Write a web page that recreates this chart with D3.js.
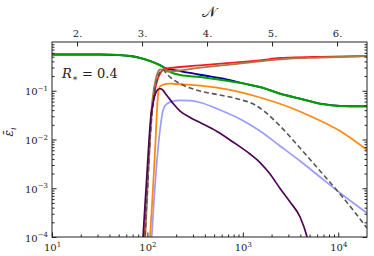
<!DOCTYPE html>
<html>
<head>
<meta charset="utf-8">
<script src="https://cdn.jsdelivr.net/npm/d3@7"></script>
<style>
  body { margin: 0; background: #fff; }
</style>
</head>
<body>
<div id="chart"></div>
<script>
// x: time t (log), y: eps_i (log).
const greenT  = [10, 32, 49, 65.8, 83.6, 106.5, 135.5, 153, 172.5, 220, 356, 734.5, 1514, 2455, 3979, 6446, 10440, 20000];
const greenE  = [0.554, 0.554, 0.541, 0.516, 0.470, 0.408, 0.330, 0.286, 0.243, 0.210, 0.191, 0.156, 0.119, 0.087, 0.0687, 0.0542, 0.0487, 0.048];

const blueT   = [10, 32, 49, 65.8, 83.6, 106.5, 135.5, 153, 172.5, 220, 356, 734.5, 1189, 1514, 2455, 3979, 6446, 10440, 20000];
const blueE   = [0.554, 0.554, 0.541, 0.516, 0.470, 0.408, 0.337, 0.293, 0.275, 0.254, 0.213, 0.166, 0.131, 0.119, 0.087, 0.0687, 0.0542, 0.0487, 0.048];

const redT    = [92.1, 96.6, 101.5, 106.5, 111.7, 120, 129.2, 139, 153, 172.5, 220, 356, 734.5, 1514, 2455, 3126, 6446, 20000];
const redE    = [5e-5, 0.000358, 0.00237, 0.0124, 0.0403, 0.104, 0.183, 0.243, 0.283, 0.293, 0.307, 0.333, 0.374, 0.421, 0.470, 0.480, 0.497, 0.516];

const brownT  = [93.3, 97.9, 101.5, 106.5, 110.4, 114.5, 121.7, 129.2, 135.5, 149.3, 164.4, 220, 356, 734.5, 1514, 3126, 6446, 20000];
const brownE  = [5e-5, 0.000358, 0.00187, 0.00977, 0.0403, 0.0818, 0.166, 0.243, 0.273, 0.267, 0.248, 0.260, 0.297, 0.342, 0.402, 0.454, 0.477, 0.516];

const grayT   = [93.3, 96.6, 100.2, 106.5, 111.7, 117.3, 126, 135.5, 145.8, 156.7, 172.5, 220, 356, 577, 935, 1343, 1710, 2455, 3979, 6446, 10440, 20000];
const grayE   = [5e-5, 0.000283, 0.000921, 0.00977, 0.0318, 0.0818, 0.166, 0.243, 0.267, 0.231, 0.191, 0.140, 0.0988, 0.0818, 0.0662, 0.051, 0.0367, 0.0189, 0.0067, 0.00226, 0.000762, 0.000153];

const orangeT = [104, 106.5, 111.7, 117.3, 121.7, 126, 129.2, 134, 142, 172.5, 220, 356, 734.5, 1514, 3126, 5062, 10440, 20000];
const orangeE = [5e-5, 1e-4, 0.00045, 0.00237, 0.00977, 0.0403, 0.0818, 0.119, 0.131, 0.140, 0.136, 0.128, 0.104, 0.0727, 0.0453, 0.0303, 0.0149, 0.00609];

const lblueT  = [109, 110.8, 117.3, 126, 135.5, 146, 156.7, 181, 220, 280, 356, 577, 935, 1514, 2455, 3979, 6446, 10440, 20000];
const lblueE  = [6.9e-5, 1e-4, 0.00057, 0.0038, 0.0157, 0.0403, 0.0522, 0.0602, 0.0637, 0.0625, 0.0575, 0.0403, 0.0263, 0.0149, 0.00736, 0.00362, 0.0017, 0.0008, 0.000311];

const purpleT = [88, 94.3, 98.4, 104, 109, 113.6, 120, 126, 133.4, 139, 159.3, 186.8, 220, 280, 356, 537, 789, 1189, 1514, 1928, 2455, 3126, 3979, 4710, 5000];
const purpleE = [5e-5, 0.00045, 0.0017, 0.0098, 0.0318, 0.051, 0.0818, 0.101, 0.110, 0.109, 0.0807, 0.0542, 0.0384, 0.0283, 0.0223, 0.0146, 0.00889, 0.00504, 0.00337, 0.00196, 0.000988, 0.000522, 0.000257, 0.0001, 6e-5];

const xMajor = [10, 100, 1000, 10000];
const xMajorExp = ["1", "2", "3", "4"];
const yMajor = [1e-4, 1e-3, 1e-2, 1e-1];
const yMajorExp = ["\u22124", "\u22123", "\u22122", "\u22121"];
const nTicks = [2, 3, 4, 5, 6];
const nLabels = ["2.", "3.", "4.", "5.", "6."];

const series = [
    {t: blueT, e: blueE, color: "#00009c", dash: null, w: 1.8},
    {t: greenT, e: greenE, color: "#00a000", dash: null, w: 2},
    {t: redT, e: redE, color: "#ff1a1a", dash: null, w: 1.8},
    {t: brownT, e: brownE, color: "#a67a4c", dash: null, w: 1.8},
    {t: lblueT, e: lblueE, color: "#9c9cff", dash: null, w: 1.7},
    {t: orangeT, e: orangeE, color: "#ff8a12", dash: null, w: 1.8},
    {t: grayT, e: grayE, color: "#555555", dash: "5,3", w: 1.6},
    {t: purpleT, e: purpleE, color: "#4e0454", dash: null, w: 1.7}
];

const FONT = '"DejaVu Serif", serif';

const margin = {top: 42, right: 7, bottom: 19, left: 52};
const W = 374, H = 256;
const width = W - margin.left - margin.right;
const height = H - margin.top - margin.bottom;

const svg = d3.select("#chart").append("svg")
    .attr("width", W).attr("height", H);
const g = svg.append("g")
    .attr("transform", "translate(" + margin.left + "," + margin.top + ")");

const x = d3.scaleLog().domain([10, 20000]).range([0, width]);
const y = d3.scaleLog().domain([1e-4, 1]).range([height, 0]);

// top axis: N is linear in log t (N=2 at t~18.3, factor ~4.8 per unit)
const nOf = t => 2 + Math.log(t / 18.3) / Math.log(4.8);
const xN = d3.scaleLinear().domain([nOf(10), nOf(20000)]).range([0, width]);

function minors(lo, hi) {
    const out = [];
    for (let k = Math.floor(Math.log10(lo)); k <= Math.ceil(Math.log10(hi)); k++) {
        for (let m = 2; m <= 9; m++) {
            const v = m * Math.pow(10, k);
            if (v > lo && v < hi) out.push(v);
        }
    }
    return out;
}

g.append("defs").append("clipPath").attr("id", "clip")
    .append("rect").attr("width", width).attr("height", height);

const line = d3.line()
    .x(d => x(d[0]))
    .y(d => y(d[1]))
    .curve(d3.curveMonotoneX);

const linesG = g.append("g").attr("clip-path", "url(#clip)");
series.forEach(s => {
    linesG.append("path")
        .datum(s.t.map((t, i) => [t, s.e[i]]))
        .attr("fill", "none")
        .attr("stroke", s.color)
        .attr("stroke-width", s.w)
        .attr("stroke-dasharray", s.dash)
        .attr("stroke-linejoin", "round")
        .attr("d", line);
});

// frame
g.append("rect").attr("width", width).attr("height", height)
    .attr("fill", "none").attr("stroke", "#222").attr("stroke-width", 1);

function styleAxis(sel) {
    sel.select(".domain").remove();
    sel.attr("font-family", FONT);
    sel.selectAll(".tick line").attr("stroke", "#222");
}

function label(sel, size) {
    return sel.style("font-family", FONT).style("font-size", size + "px").attr("fill", "#222");
}

// bottom
g.append("g").attr("transform", "translate(0," + height + ")")
    .call(d3.axisBottom(x).tickValues(minors(10, 20000)).tickSize(-2.5).tickFormat(""))
    .call(styleAxis);
const bx = g.append("g").attr("transform", "translate(0," + height + ")")
    .call(d3.axisBottom(x).tickValues(xMajor).tickSize(-4.5).tickFormat(""))
    .call(styleAxis);
bx.selectAll(".tick").append("text")
    .attr("y", 14).attr("text-anchor", "middle")
    .call(label, 10)
    .each(function(d, i) {
        const t = d3.select(this);
        t.append("tspan").text("10");
        t.append("tspan").attr("dy", -4.5).style("font-size", "7px").text(xMajorExp[i]);
    });

// top: N ticks only
const tx = g.append("g")
    .call(d3.axisTop(xN).tickValues(nTicks).tickSize(-4.5).tickFormat(""))
    .call(styleAxis);
tx.selectAll(".tick").append("text")
    .attr("y", -5).attr("text-anchor", "middle")
    .call(label, 10)
    .text((d, i) => nLabels[i]);

// left
g.append("g")
    .call(d3.axisLeft(y).tickValues(minors(1e-4, 1)).tickSize(-2.5).tickFormat(""))
    .call(styleAxis);
const ly = g.append("g")
    .call(d3.axisLeft(y).tickValues(yMajor).tickSize(-4.5).tickFormat(""))
    .call(styleAxis);
ly.selectAll(".tick").append("text")
    .attr("x", -4).attr("y", 4).attr("text-anchor", "end")
    .call(label, 10)
    .each(function(d, i) {
        const t = d3.select(this);
        t.append("tspan").text("10");
        t.append("tspan").attr("dy", -4.5).style("font-size", "7px").text(yMajorExp[i]);
    });

// right (ticks only)
g.append("g").attr("transform", "translate(" + width + ",0)")
    .call(d3.axisRight(y).tickValues(minors(1e-4, 1)).tickSize(-2.5).tickFormat(""))
    .call(styleAxis);
g.append("g").attr("transform", "translate(" + width + ",0)")
    .call(d3.axisRight(y).tickValues(yMajor).tickSize(-4.5).tickFormat(""))
    .call(styleAxis);

// axis labels
svg.append("text")
    .attr("x", 209).attr("y", 17).attr("text-anchor", "middle")
    .call(label, 15)
    .text("\uD835\uDCA9");

const yl = svg.append("text")
    .attr("transform", "translate(13,132) rotate(-90)")
    .attr("text-anchor", "middle")
    .call(label, 12).style("font-style", "italic");
yl.append("tspan").text("\u03B5\u0304");
yl.append("tspan").attr("dy", 3).style("font-size", "8px").text("i");

// annotation
const ann = g.append("text")
    .attr("x", 10).attr("y", 36)
    .call(label, 13);
ann.append("tspan").style("font-style", "italic").text("R");
ann.append("tspan").attr("dy", 3).style("font-size", "9px").text("\u2217");
ann.append("tspan").attr("dy", -3).text(" = 0.4");
</script>
</body>
</html>
